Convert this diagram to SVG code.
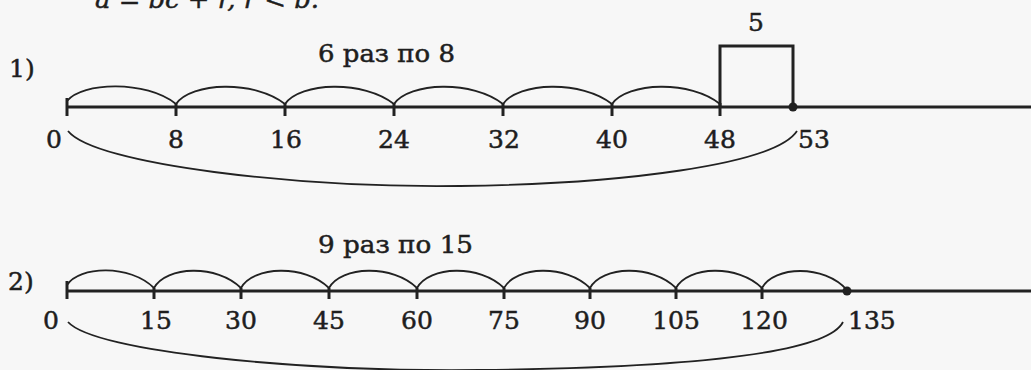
<svg xmlns="http://www.w3.org/2000/svg" width="1031" height="370" viewBox="0 0 1031 370">
<style>
.t{font-family:"DejaVu Serif","Liberation Serif",serif;font-size:25px;fill:#1e1e1e;stroke:#1e1e1e;stroke-width:0.5}
.m{text-anchor:middle}
.ax{stroke:#222;stroke-width:3;fill:none}
.tk{stroke:#222;stroke-width:3}
.arc{stroke:#222;stroke-width:1.8;fill:none}
</style>
<rect width="1031" height="370" fill="#f7f7f7"/>
<text class="t" x="95" y="8" font-style="italic" font-size="27" textLength="224" lengthAdjust="spacingAndGlyphs">a = bc + r, r &lt; b.</text>

<g id="row1">
<text class="t" x="9" y="77">1)</text>
<text class="t" x="318" y="62" textLength="137" lengthAdjust="spacingAndGlyphs">6 раз по 8</text>
<line class="ax" x1="67" y1="107" x2="1031" y2="107"/>
<line class="tk" x1="67" y1="98" x2="67" y2="116"/>
<g class="tk">
<line x1="176" y1="103" x2="176" y2="116"/>
<line x1="285" y1="103" x2="285" y2="116"/>
<line x1="394" y1="103" x2="394" y2="116"/>
<line x1="503" y1="103" x2="503" y2="116"/>
<line x1="612" y1="103" x2="612" y2="116"/>
<line x1="720" y1="103" x2="720" y2="116"/>
</g>
<g class="arc">
<path d="M67,101 C82,82 146,80 176,104"/>
<path d="M176,104 C191,82 255,80 285,104"/>
<path d="M285,104 C300,82 364,80 394,104"/>
<path d="M394,104 C409,82 473,80 503,104"/>
<path d="M503,104 C518,82 582,80 612,104"/>
<path d="M612,104 C627,82 691,80 720,104"/>
<path d="M68,131 C95,165 300,188 460,186 C620,184 775,165 797,131"/>
</g>
<path class="ax" d="M720,107 V46 H793 V107"/>
<circle cx="793" cy="107" r="4.5" fill="#222"/>
<text class="t m" x="756" y="31" font-size="22">5</text>
<text class="t m" x="54" y="148">0</text>
<text class="t m" x="176" y="148">8</text>
<text class="t m" x="286" y="148">16</text>
<text class="t m" x="394" y="148">24</text>
<text class="t m" x="504" y="148">32</text>
<text class="t m" x="612" y="148">40</text>
<text class="t m" x="720" y="148">48</text>
<text class="t" x="798" y="148">53</text>
</g>

<g id="row2">
<text class="t" x="8" y="290">2)</text>
<text class="t" x="318" y="253" textLength="155" lengthAdjust="spacingAndGlyphs">9 раз по 15</text>
<line class="ax" x1="67" y1="291" x2="1031" y2="291"/>
<line class="tk" x1="67" y1="281" x2="67" y2="299"/>
<g class="tk">
<line x1="154" y1="288" x2="154" y2="299"/>
<line x1="241" y1="288" x2="241" y2="299"/>
<line x1="329" y1="288" x2="329" y2="299"/>
<line x1="417" y1="288" x2="417" y2="299"/>
<line x1="504" y1="288" x2="504" y2="299"/>
<line x1="590" y1="288" x2="590" y2="299"/>
<line x1="676" y1="288" x2="676" y2="299"/>
<line x1="762" y1="288" x2="762" y2="299"/>
</g>
<g class="arc">
<path d="M67,285 C79,266 130,264 154,288"/>
<path d="M154,288 C166,266 217,264 241,288"/>
<path d="M241,288 C253,266 305,264 329,288"/>
<path d="M329,288 C341,266 393,264 417,288"/>
<path d="M417,288 C429,266 480,264 504,288"/>
<path d="M504,288 C516,266 566,264 590,288"/>
<path d="M590,288 C602,266 652,264 676,288"/>
<path d="M676,288 C688,266 738,264 762,288"/>
<path d="M762,288 C774,266 824,264 847,290"/>
<path d="M68,322 C95,352 300,372 480,370 C650,368 825,358 843,322"/>
</g>
<circle cx="847" cy="291" r="4.5" fill="#222"/>
<text class="t m" x="51" y="329">0</text>
<text class="t m" x="156" y="329">15</text>
<text class="t m" x="241" y="329">30</text>
<text class="t m" x="329" y="329">45</text>
<text class="t m" x="417" y="329">60</text>
<text class="t m" x="504" y="329">75</text>
<text class="t m" x="590" y="329">90</text>
<text class="t m" x="676" y="329">105</text>
<text class="t m" x="764" y="329">120</text>
<text class="t" x="848" y="329">135</text>
</g>
</svg>
